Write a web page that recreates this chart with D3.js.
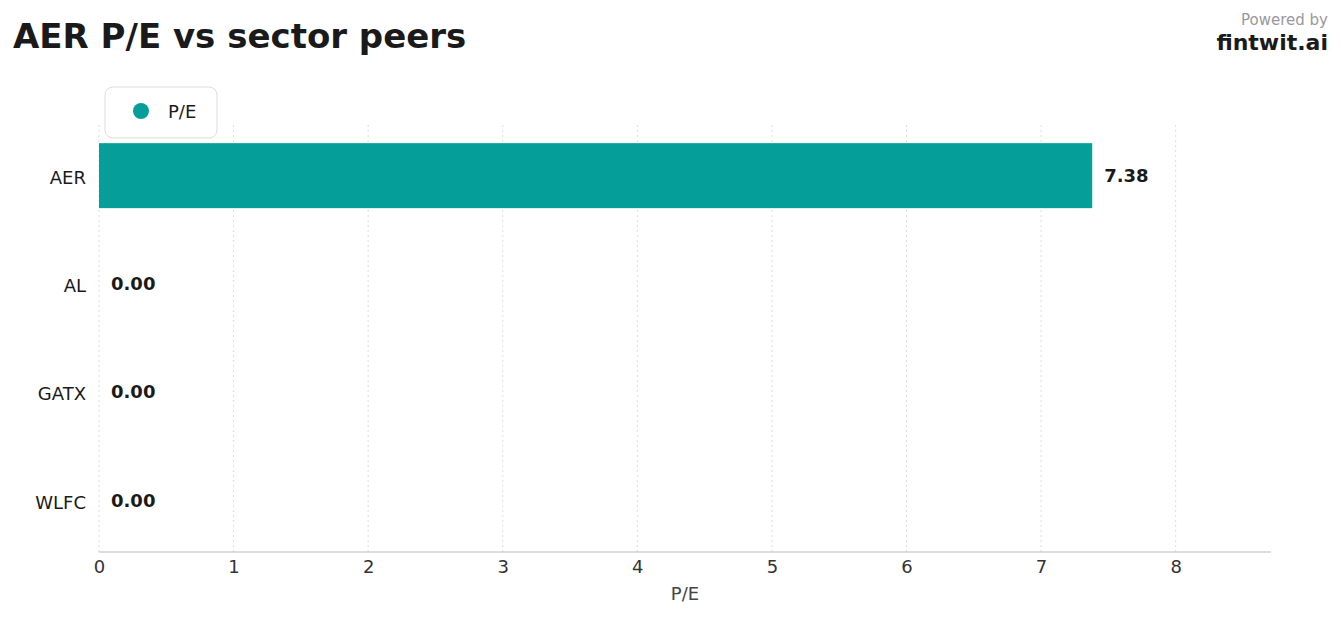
<!DOCTYPE html>
<html><head><meta charset="utf-8">
<script src="https://cdn.jsdelivr.net/npm/d3@7"></script>
<style>body{margin:0;background:#fff;font-family:"DejaVu Sans",sans-serif}</style>
</head><body><svg id="c" width="1341" height="617"></svg>
<script>
const categories = ["AER","AL","GATX","WLFC"];
const peValues = [7.38,0.00,0.00,0.00];
const xTicks = [0,1,2,3,4,5,6,7,8];
const seriesName = "P/E";

const svg = d3.select("#c");
const color = "#069e98";
const x = d3.scaleLinear().domain([0, d3.max(peValues)*1.18]).range([99,1271]);
const y = d3.scaleBand().domain(categories).range([121.5,554.7]).paddingInner(0.4).paddingOuter(0.2);
const plotTop=125, plotBottom=552;

svg.append("text").attr("x",13).attr("y",48).attr("font-size",34).attr("font-weight","bold").attr("fill","#1a1a1a").text("AER P/E vs sector peers");
svg.append("text").attr("x",1328).attr("y",25).attr("text-anchor","end").attr("font-size",15).attr("fill","#999").text("Powered by");
svg.append("text").attr("x",1328).attr("y",50).attr("text-anchor","end").attr("font-size",22).attr("font-weight","bold").attr("fill","#1a1a1a").text("fintwit.ai");

svg.append("g").selectAll("line").data(xTicks).join("line")
  .attr("x1",d=>x(d)).attr("x2",d=>x(d)).attr("y1",plotTop).attr("y2",plotBottom)
  .attr("stroke","#ddd").attr("stroke-dasharray","2,3");

svg.append("g").selectAll("rect").data(peValues).join("rect")
  .attr("x",x(0)).attr("y",(d,i)=>y(categories[i])).attr("height",y.bandwidth())
  .attr("width",d=>x(d)-x(0)).attr("fill",color);
svg.append("g").selectAll("text").data(peValues).join("text")
  .attr("x",d=>x(d)+12).attr("y",(d,i)=>y(categories[i])+y.bandwidth()/2+6)
  .attr("font-size",18).attr("font-weight","bold").attr("fill","#1a1a1a").text(d=>d.toFixed(2));

svg.append("g").selectAll("text").data(categories).join("text")
  .attr("x",86).attr("y",d=>y(d)+y.bandwidth()/2+8).attr("text-anchor","end")
  .attr("font-size",18).attr("fill","#1a1a1a").text(d=>d);

const ax = svg.append("g").attr("transform",`translate(0,${plotBottom})`)
  .call(d3.axisBottom(x).tickValues(xTicks).tickSize(0).tickPadding(8).tickFormat(d3.format("d")));
ax.select(".domain").remove();
ax.selectAll("text").attr("font-size",18).attr("fill","#333").attr("font-family","DejaVu Sans");
svg.append("line").attr("x1",99).attr("x2",1271).attr("y1",plotBottom).attr("y2",plotBottom).attr("stroke","#bbb").attr("stroke-width",1.2);
svg.append("text").attr("x",685).attr("y",600).attr("text-anchor","middle").attr("font-size",18).attr("fill","#444").text(seriesName);

svg.append("rect").attr("x",105).attr("y",87).attr("width",112).attr("height",51).attr("rx",8)
  .attr("fill","#fff").attr("stroke","#ddd");
svg.append("circle").attr("cx",141).attr("cy",111).attr("r",8).attr("fill",color);
svg.append("text").attr("x",168).attr("y",118).attr("font-size",18).attr("fill","#1a1a1a").text(seriesName);
</script></body></html>
